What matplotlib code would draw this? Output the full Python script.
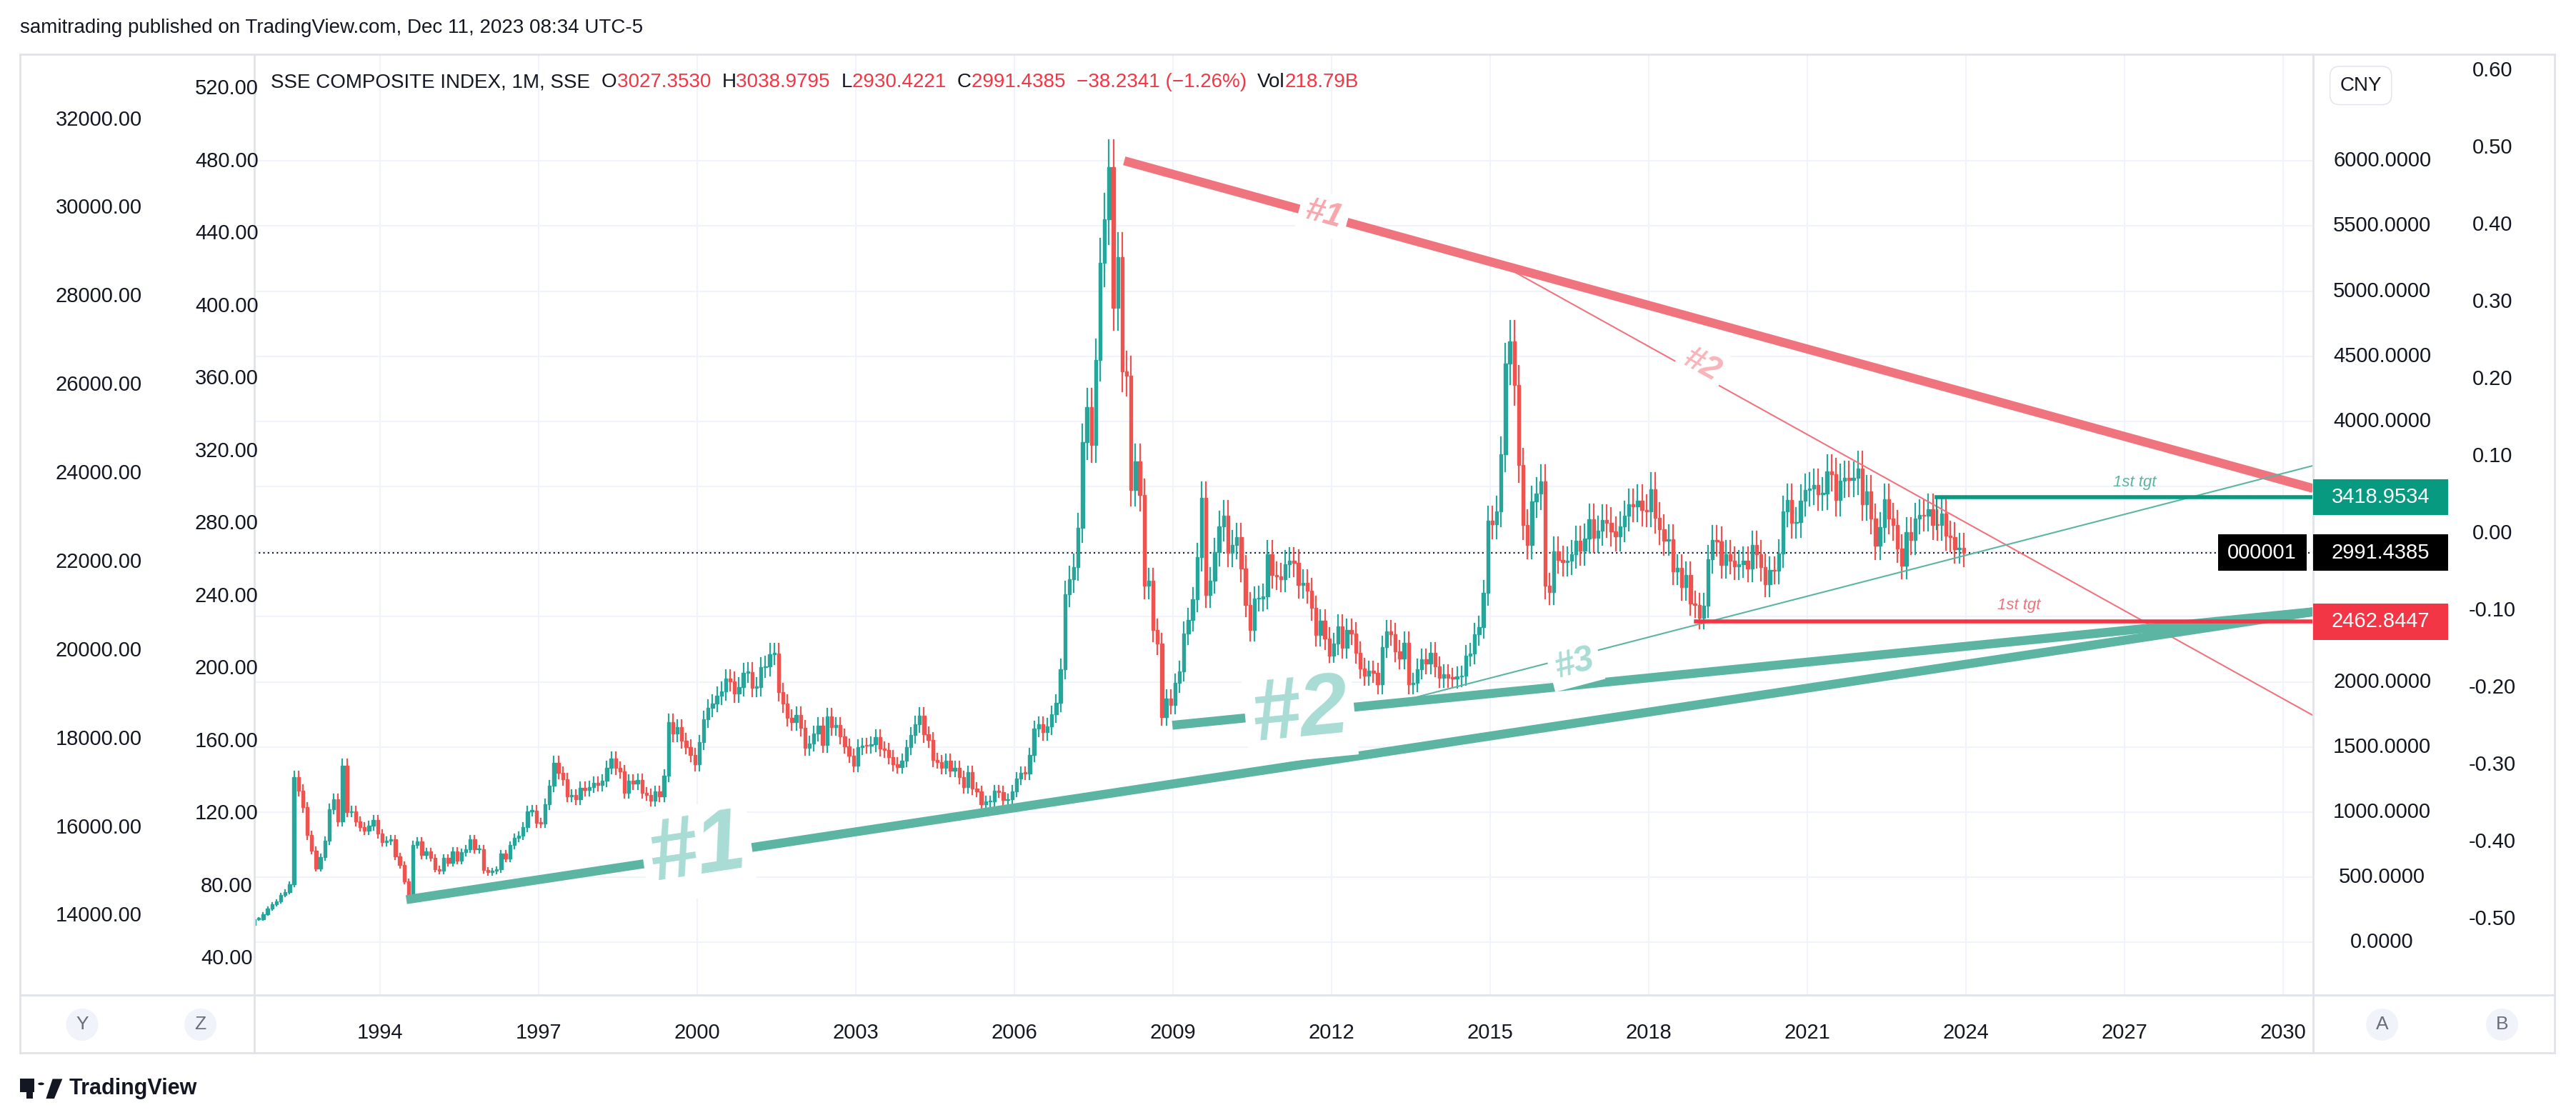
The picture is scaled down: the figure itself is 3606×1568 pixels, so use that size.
import matplotlib
matplotlib.use("Agg")
import matplotlib.pyplot as plt
import numpy as np
from matplotlib.patches import Rectangle, Circle, Polygon
from matplotlib.lines import Line2D

start_year = 1991 + 6/12
closes = [136, 180, 180, 218, 260, 292,
313, 364, 388, 445, 1266, 1167, 1036, 823, 704, 568, 654, 780,
1024, 1100, 926, 1358, 1000, 1007, 927, 886, 860, 896, 941, 833,
770, 778, 793, 661, 595, 467, 333, 750, 777, 669, 697, 647,
562, 549, 647, 611, 700, 629, 692, 716, 792, 713, 716, 555,
537, 549, 559, 680, 643, 745, 802, 820, 884, 1007, 1013, 917,
914, 1060, 1200, 1380, 1301, 1254, 1122, 1132, 1097, 1187, 1169, 1194,
1223, 1206, 1243, 1342, 1411, 1339, 1311, 1150, 1242, 1218, 1247, 1147,
1134, 1090, 1158, 1120, 1280, 1690, 1601, 1650, 1550, 1500, 1440, 1367,
1535, 1714, 1800, 1836, 1894, 1928, 2023, 2002, 1910, 1961, 2070, 2073,
1956, 1960, 2112, 2120, 2214, 2218, 1920, 1834, 1724, 1689, 1747, 1646,
1491, 1525, 1603, 1663, 1515, 1732, 1652, 1668, 1581, 1507, 1434, 1358,
1499, 1511, 1510, 1521, 1576, 1487, 1476, 1421, 1367, 1348, 1397, 1497,
1590, 1675, 1742, 1595, 1555, 1400, 1386, 1342, 1396, 1320, 1340, 1266,
1191, 1306, 1181, 1159, 1060, 1080, 1083, 1162, 1155, 1092, 1099, 1161,
1258, 1299, 1298, 1440, 1641, 1672, 1612, 1658, 1752, 1837, 2099, 2675,
2786, 2881, 3183, 3841, 4109, 3820, 4471, 5218, 5552, 5954, 4871, 5261,
4383, 4348, 3472, 3693, 3433, 2736, 2775, 2397, 2293, 1728, 1871, 1820,
1990, 2082, 2373, 2477, 2632, 2959, 3412, 2667, 2779, 2996, 3195, 3277,
2989, 3051, 3109, 2870, 2592, 2398, 2637, 2638, 2655, 2978, 2820, 2808,
2790, 2905, 2928, 2911, 2743, 2762, 2701, 2567, 2359, 2468, 2333, 2199,
2292, 2428, 2262, 2396, 2372, 2225, 2103, 2047, 2086, 2069, 1980, 2269,
2385, 2365, 2236, 2177, 2300, 1979, 1994, 2098, 2175, 2141, 2220, 2116,
2033, 2056, 2033, 2026, 2039, 2048, 2201, 2217, 2364, 2420, 2683, 3235,
3210, 3310, 3748, 4441, 4612, 4277, 3664, 3206, 3053, 3383, 3445, 3539,
2738, 2688, 3004, 2938, 2917, 2930, 2979, 3085, 3005, 3100, 3250, 3104,
3159, 3242, 3223, 3155, 3117, 3192, 3273, 3361, 3349, 3393, 3317, 3307,
3481, 3259, 3169, 3082, 3095, 2847, 2876, 2725, 2821, 2603, 2588, 2494,
2585, 2941, 3091, 3078, 2899, 2979, 2932, 2886, 2905, 2929, 2872, 3050,
2977, 2880, 2750, 2860, 2852, 2985, 3310, 3396, 3218, 3225, 3392, 3473,
3483, 3509, 3441, 3447, 3615, 3591, 3397, 3544, 3568, 3547, 3564, 3640,
3361, 3462, 3252, 3047, 3186, 3399, 3253, 3202, 3024, 2893, 3151, 3089,
3255, 3280, 3273, 3323, 3205, 3202, 3291, 3120, 3110, 3018, 3030, 2991]
first_open = 128

year_ticks = list(range(1994, 2031, 3))
price_ticks = list(range(0, 6001, 500))
left1_ticks = list(range(14000, 32001, 2000))
left2_ticks = list(range(40, 521, 40))
far_ticks = [round(-0.5 + 0.1*i, 2) for i in range(12)]

# trend lines: (year, price)
red1 = [(2008.08, 6000), (2030.57, 3485)]
red2 = [(2015.45, 5150), (2030.57, 1742)]
grn1 = [(1994.5, 328), (2030.57, 2538)]
grn2 = [(2008.99, 1667), (2030.57, 2538)]
grn3 = [(2013.1, 1830), (2030.57, 3660)]
tgt_up = (2023.45, 3418.9534)
tgt_dn = (2018.9, 2462.8447)
last_close = 2991.4385

W, H = 3606, 1568
fig = plt.figure(figsize=(W/100, H/100), dpi=100)
plt.rcParams['font.family'] = 'Liberation Sans'
DW, DH = 1568, 681
def fx(x): return x/DW
def fy(y): return 1 - y/DH

L, R, T, B = 155, 1408, 33, 605
ax = fig.add_axes([fx(L), fy(B), fx(R)-fx(L), fy(T)-fy(B)])
ax.set_xlim(1991.63, 2030.57)
ax.set_ylim(-404, 6818)
for s in ax.spines.values(): s.set_visible(False)
ax.set_yticks([])
ax.set_xticks(year_ticks)
ax.set_xticklabels([str(y) for y in year_ticks], fontsize=21, color='#131722')
ax.tick_params(axis='x', length=0, pad=28)
for y in price_ticks:
    ax.axhline(y, color='#f0f3fa', lw=1.5, zorder=0)
for x in year_ticks:
    ax.axvline(x, color='#f0f3fa', lw=1.5, zorder=0)

# candles
GREEN, RED = '#26a69a', '#ef5350'
opens = [first_open] + closes[:-1]
for i, (o, c) in enumerate(zip(opens, closes)):
    t = start_year + (i + 0.5)/12
    col = GREEN if c >= o else RED
    hi = max(o, c)*1.035; lo = min(o, c)*0.965
    ax.plot([t, t], [lo, hi], color=col, lw=1.6, zorder=3)
    ax.add_patch(Rectangle((t-0.03, min(o, c)), 0.06, max(abs(c-o), 8), color=col, zorder=3))

ax.axhline(last_close, color='#131722', lw=1.5, ls=(0, (1, 2)), zorder=2)

def seg(p, color, lw):
    ax.plot([p[0][0], p[1][0]], [p[0][1], p[1][1]], color=color, lw=lw, solid_capstyle='butt', zorder=4)
seg(red1, '#f0747e', 9)
seg(red2, '#f0747e', 1.5)
seg(grn1, '#5bb5a2', 9)
seg(grn2, '#5bb5a2', 9)
seg(grn3, '#5bb5a2', 1.5)
ax.plot([tgt_up[0], 2030.57], [tgt_up[1]]*2, color='#089981', lw=4, zorder=4)
ax.plot([tgt_dn[0], 2030.57], [tgt_dn[1]]*2, color='#f23645', lw=4, zorder=4)
ax.plot([tgt_up[0], tgt_up[0]], [tgt_up[1], tgt_up[1]-250], color='#089981', lw=1.5, zorder=4)

def lab(x, y, s, size, color, rot):
    ax.text(x, y, s, fontsize=size, color=color, rotation=rot, style='italic', fontweight='bold',
            ha='center', va='center', zorder=5, rotation_mode='anchor',
            bbox=dict(facecolor='white', edgecolor='none', pad=6))
lab(2011.85, 5590, '#1', 34, '#f8a5ab', -15)
lab(2019.0, 4430, '#2', 34, '#f8b4b9', -29)
lab(2000.0, 700, '#1', 88, '#a8dcd4', 8.6)
lab(2011.4, 1760, '#2', 88, '#a8dcd4', 5.6)
lab(2016.6, 2140, '#3', 36, '#a8dcd4', 14.7)
ax.text(2027.2, 3530, '1st tgt', fontsize=16, color='#5bb5a2', style='italic', ha='center', va='center', zorder=5)
ax.text(2025.0, 2590, '1st tgt', fontsize=16, color='#f0747e', style='italic', ha='center', va='center', zorder=5)

def ydisp(p): return 573 - p*0.0792
box_prices = [tgt_up[1], last_close, tgt_dn[1]]
for p in price_ticks:
    if min(abs(ydisp(p) - ydisp(b)) for b in box_prices) < 22:
        continue
    fig.text(fx(1450), fy(ydisp(p)), f"{p:.4f}", fontsize=21, color='#131722', ha='center', va='center')
for v in left1_ticks:
    yd = 557 - (v-14000)/2000*53.8
    fig.text(fx(60), fy(yd), f"{v:.2f}", fontsize=21, color='#131722', ha='center', va='center')
for v in left2_ticks:
    yd = 583 - (v-40)*1.102
    fig.text(fx(138), fy(yd), f"{v:.2f}", fontsize=21, color='#131722', ha='center', va='center')
for v in far_ticks:
    yd = 43 + (0.6 - v)*469
    fig.text(fx(1517), fy(yd), f"{v:.2f}", fontsize=21, color='#131722', ha='center', va='center')

def pbox(p, txt, color, x0=1408, w=82):
    yd = ydisp(p)
    fig.patches.append(Rectangle((fx(x0), fy(yd+11)), fx(w), fy(0)-fy(22), transform=fig.transFigure,
                                 facecolor=color, edgecolor='none', zorder=10))
    fig.text(fx(x0 + w/2), fy(yd), txt, fontsize=21, color='white', ha='center', va='center', zorder=11)
pbox(tgt_up[1], f"{tgt_up[1]:.4f}", '#089981')
pbox(last_close, f"{last_close:.4f}", '#000000')
pbox(last_close, "000001", '#000000', x0=1350, w=54)
pbox(tgt_dn[1], f"{tgt_dn[1]:.4f}", '#f23645')

lc = '#e0e3eb'
for x in [12, 155, 1408, 1555]:
    fig.add_artist(Line2D([fx(x), fx(x)], [fy(640), fy(33)], color=lc, lw=2))
for y in [33, 605, 640]:
    fig.add_artist(Line2D([fx(12), fx(1555)], [fy(y), fy(y)], color=lc, lw=2))

for x, s in [(50, 'Y'), (122, 'Z'), (1450, 'A'), (1523, 'B')]:
    fig.text(fx(x), fy(623), s, fontsize=19, color='#6a6d78', ha='center', va='center',
             bbox=dict(boxstyle='circle,pad=0.4', facecolor='#f0f3fa', edgecolor='none'))

fig.text(fx(12), fy(17), "samitrading published on TradingView.com, Dec 11, 2023 08:34 UTC-5",
         fontsize=20, color='#131722', ha='left', va='center')
parts = [("SSE COMPOSITE INDEX, 1M, SSE  ", '#131722'), ("O", '#131722'), ("3027.3530  ", '#f23645'),
         ("H", '#131722'), ("3038.9795  ", '#f23645'), ("L", '#131722'), ("2930.4221  ", '#f23645'),
         ("C", '#131722'), ("2991.4385  −38.2341 (−1.26%)  ", '#f23645'), ("Vol", '#131722'), ("218.79B", '#f23645')]
t = fig.text(fx(165), fy(50), parts[0][0], fontsize=20, color=parts[0][1], ha='left', va='center')
fig.canvas.draw()
for s, c in parts[1:]:
    ex = t.get_window_extent()
    t = fig.text(ex.x1/W, fy(50), s, fontsize=20, color=c, ha='left', va='center')
    fig.canvas.draw()
fig.text(fx(1437), fy(52), "CNY", fontsize=20, color='#131722', ha='center', va='center',
         bbox=dict(boxstyle='round,pad=0.5', facecolor='white', edgecolor='#e0e3eb'))
# TradingView logo mark
lx, ly = 12, 662
fig.patches.append(Rectangle((fx(lx), fy(ly+2)), fx(9), fy(0)-fy(8), transform=fig.transFigure, facecolor='#131722'))
fig.patches.append(Rectangle((fx(lx+4), fy(ly+6)), fx(4), fy(0)-fy(12), transform=fig.transFigure, facecolor='#131722'))
fig.patches.append(Circle((fx(lx+13), fy(ly-3)), 0.0012, transform=fig.transFigure, facecolor='#131722'))
fig.patches.append(Polygon([(fx(lx+16), fy(ly+6)), (fx(lx+20), fy(ly-6)), (fx(lx+26), fy(ly-6)), (fx(lx+21), fy(ly+6))],
                           closed=True, transform=fig.transFigure, facecolor='#131722'))
fig.text(fx(lx+30), fy(ly), "TradingView", fontsize=22, color='#131722', fontweight='bold', ha='left', va='center')

fig.savefig("out.png", dpi=100, facecolor='white')
